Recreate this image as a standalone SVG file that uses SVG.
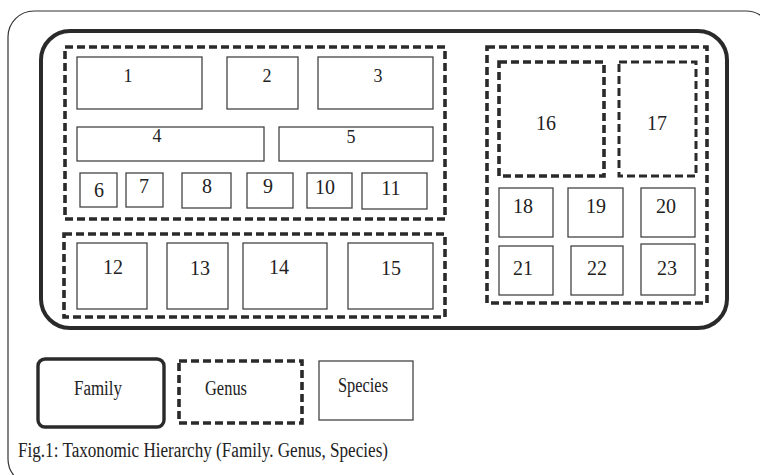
<svg xmlns="http://www.w3.org/2000/svg" width="760" height="475" viewBox="0 0 760 475">
<style>
.frame{fill:none;stroke:#333;stroke-width:1.2}
.family{fill:none;stroke:#2a2a2a;stroke-width:4}
.genus{fill:none;stroke:#2a2a2a;stroke-width:3.6;stroke-dasharray:8 4}
.species{fill:#fff;stroke:#444;stroke-width:1.3}
text{font-family:'Liberation Serif',serif;fill:#222}
.lbl{font-size:20px;text-anchor:middle}
.sm{font-size:18px}
.leg{font-size:20px}
</style>
<rect width="760" height="475" fill="#fff"/>
<rect class="frame" x="8" y="11" width="764" height="474" rx="26"/>
<g id="family-main"><rect class="family" x="41" y="31" width="686" height="297" rx="29"/></g>
<g id="genus-a"><rect class="genus" x="65" y="47" width="380" height="172"/></g>
<g id="genus-b"><rect class="genus" x="64" y="234" width="381" height="83"/></g>
<g id="genus-c"><rect class="genus" x="487" y="47" width="220" height="256"/></g>
<g id="genus-16"><rect class="genus" x="499" y="62" width="105" height="114"/></g>
<g id="genus-17"><rect class="genus" x="619" y="62" width="77" height="114" style="stroke-width:3"/></g>

<g id="n1"><rect class="species" x="77" y="57" width="125" height="52"/><text class="lbl sm" x="128" y="82">1</text></g>
<g id="n2"><rect class="species" x="227" y="57" width="71" height="52"/><text class="lbl sm" x="267" y="82">2</text></g>
<g id="n3"><rect class="species" x="318" y="57" width="115" height="52"/><text class="lbl sm" x="378" y="82">3</text></g>
<g id="n4"><rect class="species" x="77" y="127" width="187" height="34"/><text class="lbl sm" x="157" y="142">4</text></g>
<g id="n5"><rect class="species" x="279" y="127" width="154" height="34"/><text class="lbl sm" x="351" y="143">5</text></g>
<g id="n6"><rect class="species" x="80" y="173" width="37" height="34"/><text class="lbl" x="99" y="197">6</text></g>
<g id="n7"><rect class="species" x="126" y="173" width="37" height="34"/><text class="lbl" x="144" y="193">7</text></g>
<g id="n8"><rect class="species" x="182" y="173" width="49" height="35"/><text class="lbl" x="207" y="193">8</text></g>
<g id="n9"><rect class="species" x="247" y="173" width="46" height="35"/><text class="lbl" x="268" y="193">9</text></g>
<g id="n10"><rect class="species" x="307" y="173" width="45" height="35"/><text class="lbl" x="325" y="194">10</text></g>
<g id="n11"><rect class="species" x="362" y="173" width="65" height="36"/><text class="lbl" x="391" y="195">11</text></g>

<g id="n12"><rect class="species" x="77" y="243" width="70" height="66"/><text class="lbl" x="113" y="274">12</text></g>
<g id="n13"><rect class="species" x="167" y="243" width="61" height="66"/><text class="lbl" x="200" y="275">13</text></g>
<g id="n14"><rect class="species" x="243" y="243" width="84" height="66"/><text class="lbl" x="279" y="274">14</text></g>
<g id="n15"><rect class="species" x="348" y="243" width="85" height="66"/><text class="lbl" x="391" y="275">15</text></g>

<g id="n16"><text class="lbl" x="546" y="130">16</text></g>
<g id="n17"><text class="lbl" x="657" y="130">17</text></g>
<g id="n18"><rect class="species" x="499" y="188" width="54" height="49"/><text class="lbl" x="523" y="213">18</text></g>
<g id="n19"><rect class="species" x="568" y="188" width="55" height="49"/><text class="lbl" x="596" y="213">19</text></g>
<g id="n20"><rect class="species" x="641" y="188" width="54" height="49"/><text class="lbl" x="666" y="213">20</text></g>
<g id="n21"><rect class="species" x="499" y="246" width="54" height="49"/><text class="lbl" x="523" y="275">21</text></g>
<g id="n22"><rect class="species" x="571" y="246" width="52" height="49"/><text class="lbl" x="597" y="275">22</text></g>
<g id="n23"><rect class="species" x="641" y="244" width="54" height="51"/><text class="lbl" x="667" y="275">23</text></g>

<g id="legend-family"><rect class="family" x="38" y="359" width="126" height="68" rx="7" style="stroke-width:3.4"/><text class="leg" x="74" y="395" textLength="48" lengthAdjust="spacingAndGlyphs">Family</text></g>
<g id="legend-genus"><rect class="genus" x="179" y="361" width="123" height="62"/><text class="leg" x="205" y="395" textLength="42" lengthAdjust="spacingAndGlyphs">Genus</text></g>
<g id="legend-species"><rect class="species" x="319" y="361" width="94" height="59"/><text class="leg" x="338" y="392" textLength="50" lengthAdjust="spacingAndGlyphs">Species</text></g>
<g id="connectors"></g>
<text class="leg" x="18" y="457" textLength="370" lengthAdjust="spacingAndGlyphs">Fig.1: Taxonomic Hierarchy (Family. Genus, Species)</text>
</svg>
